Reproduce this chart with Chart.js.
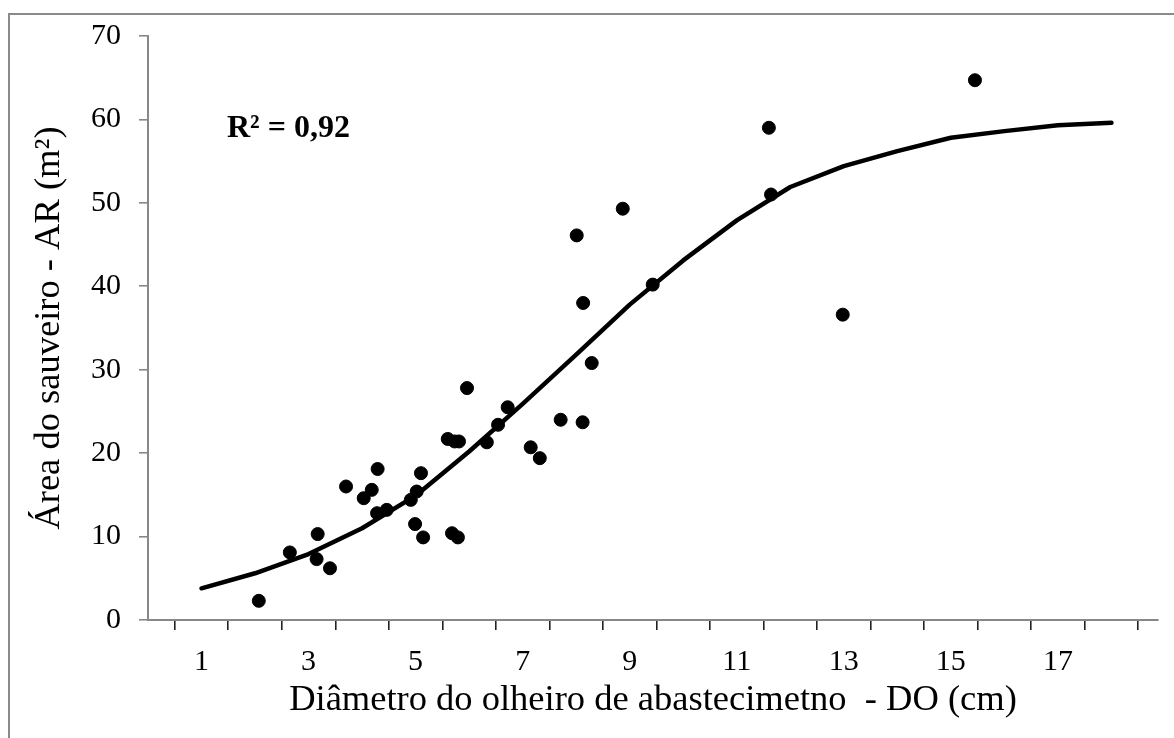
<!DOCTYPE html>
<html>
<head>
<meta charset="utf-8">
<script src="https://cdn.jsdelivr.net/npm/chart.js@4.4.1/dist/chart.umd.min.js"></script>
<style>
  html, body { margin: 0; padding: 0; background: #fff; }
  #wrap { width: 1174px; height: 738px; }
</style>
</head>
<body>
<div id="wrap"><canvas id="chart" width="1174" height="738"></canvas></div>
<script>
// observed points (DO, AR)
const obsX = [2.07, 2.65, 3.17, 3.15, 3.40, 3.70, 4.03, 4.18, 4.29, 4.28, 4.46, 4.91, 5.02, 4.99, 5.10, 5.14,
    5.60, 5.73, 5.81, 5.68, 5.79, 5.96, 6.33, 6.54, 6.72, 7.15, 7.32, 7.71, 8.12, 8.13, 8.29, 8.01,
    8.87, 9.43, 11.60, 11.64, 12.98, 15.45];
const obsY = [2.3, 8.1, 10.3, 7.3, 6.2, 16.0, 14.6, 15.6, 18.1, 12.8, 13.2, 14.4, 15.4, 11.5, 17.6, 9.9,
    21.7, 21.4, 21.4, 10.4, 9.9, 27.8, 21.3, 23.4, 25.5, 20.7, 19.4, 24.0, 23.7, 38.0, 30.8, 46.1,
    49.3, 40.2, 59.0, 51.0, 36.6, 64.7];

// fitted curve
const curveX = [1, 2, 3, 4, 5, 6, 7, 8, 9, 10, 11, 12, 13, 14, 15, 16, 17, 18];
const curveY = [3.8, 5.6, 7.9, 11.0, 14.9, 20.2, 25.9, 31.8, 37.8, 43.1, 47.9, 51.9, 54.4, 56.2, 57.8, 58.6, 59.3, 59.6];

const xLabels = [1, 3, 5, 7, 9, 11, 13, 15, 17];
const yTicks = [0, 10, 20, 30, 40, 50, 60, 70];
const r2Text = 'R² = 0,92';

const serif = '"Liberation Serif", "Times New Roman", serif';

const frame = {
    id: 'frame',
    beforeDraw(chart) {
        const ctx = chart.ctx;
        ctx.save();
        ctx.fillStyle = '#fff';
        ctx.fillRect(0, 0, chart.width, chart.height);
        ctx.strokeStyle = '#8a8a8a';
        ctx.lineWidth = 2;
        ctx.strokeRect(9, 14, chart.width + 20, chart.height + 20);
        ctx.restore();
    },
    afterDraw(chart) {
        const ctx = chart.ctx;
        ctx.save();
        ctx.font = 'bold 32px ' + serif;
        ctx.fillStyle = '#000';
        ctx.textBaseline = 'alphabetic';
        ctx.fillText(r2Text, 227, 137);
        ctx.restore();
    }
};

const isHalf = v => Math.abs((v % 1) - 0.5) < 1e-6;

new Chart(document.getElementById('chart'), {
    type: 'scatter',
    data: {
        datasets: [
            {
                label: 'curve',
                type: 'line',
                data: curveX.map((x, i) => ({ x, y: curveY[i] })),
                borderColor: '#000',
                borderWidth: 4.5,
                borderCapStyle: 'round',
                borderJoinStyle: 'round',
                pointRadius: 0,
                tension: 0,
                fill: false
            },
            {
                label: 'obs',
                data: obsX.map((x, i) => ({ x, y: obsY[i] })),
                backgroundColor: '#000',
                borderColor: '#000',
                pointRadius: 6.5,
                pointHoverRadius: 6.5
            }
        ]
    },
    options: {
        responsive: false,
        animation: false,
        events: [],
        layout: { padding: { left: 0, top: 35, right: 16, bottom: 0 } },
        plugins: { legend: { display: false }, tooltip: { enabled: false } },
        scales: {
            x: {
                type: 'linear',
                min: 0,
                max: 18.87,
                afterFit(scale) { scale.height = 118; },
                border: { display: true, color: '#888', width: 2 },
                grid: {
                    drawOnChartArea: false,
                    drawTicks: true,
                    tickLength: 10,
                    lineWidth: 1.6,
                    color: ctx => (ctx.tick && isHalf(ctx.tick.value)) ? '#222' : 'rgba(0,0,0,0)'
                },
                ticks: {
                    stepSize: 0.5,
                    includeBounds: false,
                    autoSkip: false,
                    maxRotation: 0,
                    padding: 14,
                    color: '#000',
                    font: { family: serif, size: 30 },
                    callback: v => xLabels.includes(v) ? String(v) : ''
                },
                title: {
                    display: true,
                    text: 'Diâmetro do olheiro de abastecimetno  - DO (cm)',
                    color: '#000',
                    font: { family: serif, size: 36.5 },
                    padding: { top: 0, bottom: 16 }
                }
            },
            y: {
                min: 0,
                max: 70,
                afterFit(scale) { scale.width = 148; },
                border: { display: true, color: '#888', width: 2 },
                grid: {
                    drawOnChartArea: false,
                    drawTicks: true,
                    tickLength: 9,
                    lineWidth: 1.6,
                    color: '#888'
                },
                afterBuildTicks(scale) { scale.ticks = yTicks.map(v => ({ value: v })); },
                ticks: {
                    padding: 18,
                    color: '#000',
                    font: { family: serif, size: 30 }
                },
                title: {
                    display: true,
                    text: 'Área do sauveiro - AR (m²)',
                    color: '#000',
                    font: { family: serif, size: 36.5 },
                    padding: { top: 28, bottom: 0 }
                }
            }
        }
    },
    plugins: [frame]
});
</script>
</body>
</html>
